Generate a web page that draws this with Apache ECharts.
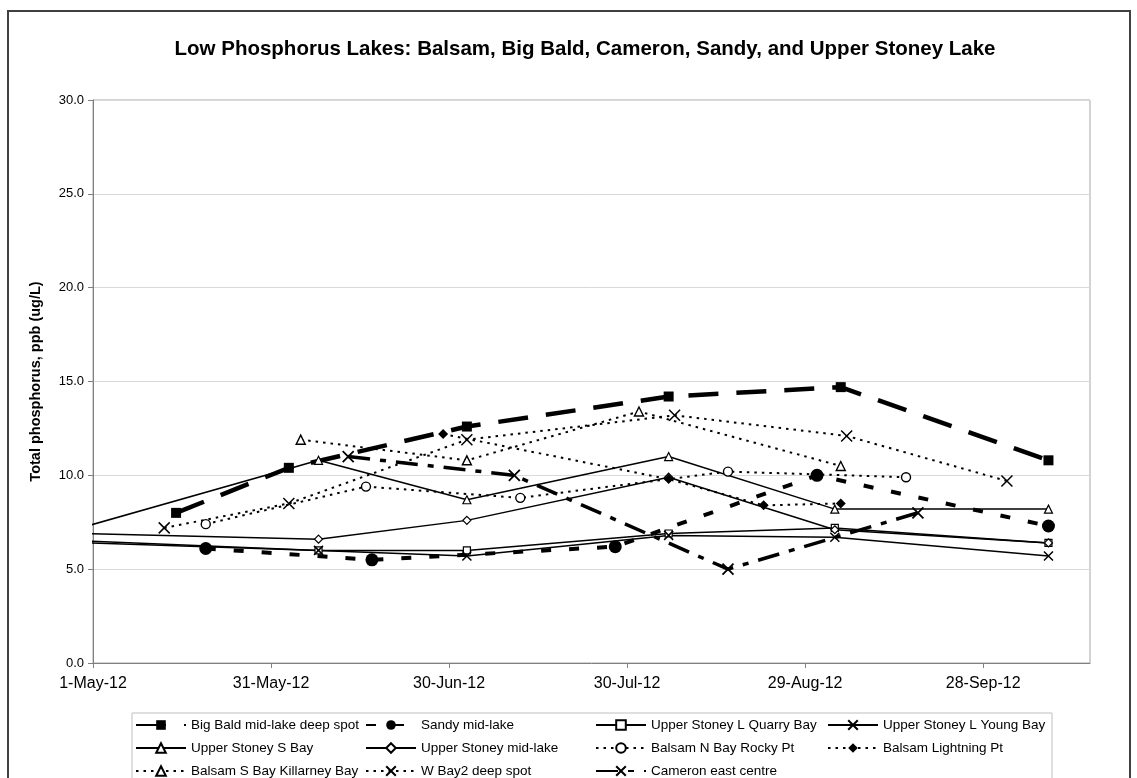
<!DOCTYPE html>
<html>
<head>
<meta charset="utf-8">
<script src="https://cdn.jsdelivr.net/npm/echarts@6/dist/echarts.min.js"></script>
<style>html,body{margin:0;padding:0;background:#fff}#c{width:1137px;height:778px}</style>
</head>
<body>
<div id="c"></div>
<script>
// ---------- DATA ----------
const xTickLabels = ['1-May-12', '31-May-12', '30-Jun-12', '30-Jul-12', '29-Aug-12', '28-Sep-12'];
const xAxisStart = '2012-05-01';
const xAxisEnd = '2012-10-16';
const xTickDays = 30;
const yTicks = [0, 5, 10, 15, 20, 25, 30];

const bigBaldDates = ['2012-05-15', '2012-06-03', '2012-07-03', '2012-08-06', '2012-09-04', '2012-10-09'];
const bigBaldVals  = [8.0, 10.4, 12.6, 14.2, 14.7, 10.8];

const sandyDates = ['2012-05-20', '2012-06-17', '2012-07-28', '2012-08-31', '2012-10-09'];
const sandyVals  = [6.1, 5.5, 6.2, 10.0, 7.3];

const upperStoneyDates = ['2012-04-30', '2012-06-08', '2012-07-03', '2012-08-06', '2012-09-03', '2012-10-09'];
const quarryBayVals = [6.5, 6.0, 6.0, 6.9, 7.2, 6.4];
const youngBayVals  = [6.4, 6.0, 5.7, 6.8, 6.7, 5.7];
const sBayVals      = [7.3, 10.8, 8.7, 11.0, 8.2, 8.2];
const midLakeVals   = [6.9, 6.6, 7.6, 9.9, 7.1, 6.4];

const nBayDates = ['2012-05-20', '2012-06-16', '2012-07-12', '2012-08-16', '2012-09-15'];
const nBayVals  = [7.4, 9.4, 8.8, 10.2, 9.9];

const lightningDates = ['2012-06-29', '2012-08-06', '2012-08-22', '2012-09-04'];
const lightningVals  = [12.2, 9.8, 8.4, 8.5];

const killarneyDates = ['2012-06-05', '2012-07-03', '2012-08-01', '2012-09-04'];
const killarneyVals  = [11.9, 10.8, 13.4, 10.5];

const wBay2Dates = ['2012-05-13', '2012-06-03', '2012-07-03', '2012-08-07', '2012-09-05', '2012-10-02'];
const wBay2Vals  = [7.2, 8.5, 11.9, 13.2, 12.1, 9.7];

const cameronDates = ['2012-06-13', '2012-07-11', '2012-08-16', '2012-09-17'];
const cameronVals  = [11.0, 10.0, 5.0, 8.0];

// ---------- HELPERS ----------
const DAY = 86400000;
function utc(s) { const p = s.split('-').map(Number); return Date.UTC(p[0], p[1] - 1, p[2]); }
const ORIGIN = utc(xAxisStart);
function dayOf(s) { return (utc(s) - ORIGIN) / DAY; }
const X_MAX = dayOf(xAxisEnd);

const XMARK = 'path://M0,0L10,10M10,0L0,10';
const DOT = [2.5, 5];

function mk(name, dates, vals, st) {
  return {
    name: name,
    type: 'line',
    clip: false,
    animation: false,
    symbol: st.symbol,
    symbolSize: st.size,
    showAllSymbol: true,
    emphasis: { disabled: true },
    lineStyle: { color: '#000', width: st.width, type: st.dash || 'solid', cap: 'butt' },
    itemStyle: { color: st.fill, borderColor: '#000', borderWidth: st.bw },
    data: dates.map(function (d, i) {
      const x = dayOf(d);
      const item = { value: [x, vals[i]] };
      if (x < 0) { item.symbol = 'none'; }
      return item;
    })
  };
}

const series = [
  mk('Big Bald mid-lake deep spot', bigBaldDates, bigBaldVals, { symbol: 'rect', size: 10, fill: '#000', bw: 0, width: 4.5, dash: [30, 18] }),
  mk('Sandy mid-lake', sandyDates, sandyVals, { symbol: 'circle', size: 13, fill: '#000', bw: 0, width: 4, dash: [10, 18] }),
  mk('Upper Stoney L Quarry Bay', upperStoneyDates, quarryBayVals, { symbol: 'rect', size: 7, fill: '#fff', bw: 1.2, width: 1.5 }),
  mk('Upper Stoney L Young Bay', upperStoneyDates, youngBayVals, { symbol: XMARK, size: 9, fill: '#000', bw: 1.5, width: 1.5 }),
  mk('Upper Stoney S Bay', upperStoneyDates, sBayVals, { symbol: 'triangle', size: 8, fill: '#fff', bw: 1.2, width: 1.5 }),
  mk('Upper Stoney mid-lake', upperStoneyDates, midLakeVals, { symbol: 'diamond', size: 8, fill: '#fff', bw: 1.2, width: 1.5 }),
  mk('Balsam N Bay Rocky Pt', nBayDates, nBayVals, { symbol: 'circle', size: 9, fill: '#fff', bw: 1.4, width: 2, dash: DOT }),
  mk('Balsam Lightning Pt', lightningDates, lightningVals, { symbol: 'diamond', size: 10, fill: '#000', bw: 0, width: 2, dash: DOT }),
  mk('Balsam S Bay Killarney Bay', killarneyDates, killarneyVals, { symbol: 'triangle', size: 9, fill: '#fff', bw: 1.4, width: 2, dash: DOT }),
  mk('W Bay2 deep spot', wBay2Dates, wBay2Vals, { symbol: XMARK, size: 11, fill: '#000', bw: 1.5, width: 2, dash: DOT }),
  mk('Cameron east centre', cameronDates, cameronVals, { symbol: XMARK, size: 11, fill: '#000', bw: 1.8, width: 3.5, dash: [22, 10, 6, 10] })
];

const legendCols = [
  ['Big Bald mid-lake deep spot', 'Upper Stoney S Bay', 'Balsam S Bay Killarney Bay'],
  ['Sandy mid-lake', 'Upper Stoney mid-lake', 'W Bay2 deep spot'],
  ['Upper Stoney L Quarry Bay', 'Balsam N Bay Rocky Pt', 'Cameron east centre'],
  ['Upper Stoney L Young Bay', 'Balsam Lightning Pt']
];
const legendLefts = [135, 365, 595, 827];

const FONT = '"Liberation Sans", Arial, sans-serif';

const chart = echarts.init(document.getElementById('c'), null, { renderer: 'canvas' });
chart.setOption({
  backgroundColor: '#fff',
  animation: false,
  textStyle: { fontFamily: FONT },
  title: {
    text: 'Low Phosphorus Lakes: Balsam, Big Bald, Cameron, Sandy, and Upper Stoney Lake',
    left: 580, textAlign: 'center', top: 34,
    textStyle: { fontFamily: FONT, fontWeight: 'bold', fontSize: 20.5, color: '#000' }
  },
  grid: {
    left: 93, top: 100, width: 997, height: 563,
    show: true, borderColor: '#a6a6a6', borderWidth: 1, backgroundColor: 'transparent'
  },
  xAxis: {
    type: 'value', min: 0, max: X_MAX, interval: xTickDays,
    axisLine: { show: true, lineStyle: { color: '#808080', width: 1 } },
    axisTick: { show: true, length: 5, inside: false, lineStyle: { color: '#808080' } },
    splitLine: { show: false },
    axisLabel: {
      fontFamily: FONT, fontSize: 16, color: '#000', margin: 13, showMaxLabel: false,
      formatter: function (v) { const i = Math.round(v / xTickDays); return (Math.abs(v - i * xTickDays) < 1e-6 && xTickLabels[i]) ? xTickLabels[i] : ''; }
    }
  },
  yAxis: {
    type: 'value', min: yTicks[0], max: yTicks[yTicks.length - 1], interval: yTicks[1] - yTicks[0],
    name: 'Total phosphorus, ppb (ug/L)', nameLocation: 'middle', nameGap: 50,
    nameTextStyle: { fontFamily: FONT, fontWeight: 'bold', fontSize: 14.5, color: '#000' },
    axisLine: { show: true, lineStyle: { color: '#808080', width: 1 } },
    axisTick: { show: true, length: 5, inside: false, lineStyle: { color: '#808080' } },
    splitLine: { show: true, lineStyle: { color: '#d9d9d9', width: 1 } },
    axisLabel: { fontFamily: FONT, fontSize: 13, color: '#000', margin: 9, formatter: function (v) { return v.toFixed(1); } }
  },
  legend: legendCols.map(function (col, i) {
    return {
      data: col, orient: 'vertical', left: legendLefts[i], top: 718,
      itemWidth: 50, itemHeight: 12, itemGap: 9, padding: 0,
      selectedMode: false,
      textStyle: { fontFamily: FONT, fontSize: 13.5, color: '#000', lineHeight: 12 }
    };
  }),
  graphic: [
    { type: 'rect', silent: true, z: -1, shape: { x: 132, y: 713, width: 920, height: 90 }, style: { fill: 'none', stroke: '#bfbfbf', lineWidth: 1 } },
    { type: 'rect', silent: true, z: -1, shape: { x: 8, y: 11, width: 1122, height: 800 }, style: { fill: 'none', stroke: '#404040', lineWidth: 2 } }
  ],
  series: series
});
</script>
</body>
</html>
